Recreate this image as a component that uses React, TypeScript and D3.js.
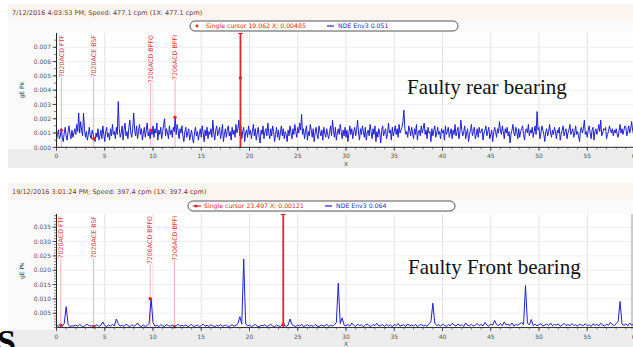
import React from "react";
import * as d3 from "d3";

// ---------- DATA ----------
const rearStep = 0.1; // spacing of spectrum lines (X, orders), rear spectrum
const frontStep = 0.2; // spacing of spectrum lines (X, orders), front spectrum
// Faulty rear bearing spectrum, gE Pk in units of 1e-4
const rearAmpE4 = [
  5, 9, 12, 6, 8, 13, 7, 4, 10, 14, 8, 5, 11, 15, 9, 6, 12, 7, 10, 13,
  9, 16, 11, 24, 10, 18, 12, 8, 24, 13, 7, 11, 5, 9, 14, 8, 6, 12, 9, 6,
  4, 10, 7, 13, 5, 8, 12, 6, 15, 9, 4, 11, 14, 7, 10, 5, 13, 8, 16, 9,
  11, 6, 14, 9, 32, 13, 7, 10, 15, 5, 12, 17, 8, 11, 6, 14, 19, 10, 7, 13,
  24, 12, 8, 15, 6, 11, 16, 9, 13, 5, 10, 14, 7, 12, 17, 8, 11, 6, 12, 9,
  15, 7, 13, 10, 17, 5, 12, 9, 14, 6, 11, 16, 20, 8, 13, 10, 6, 15, 9, 12,
  7, 14, 11, 21, 9, 16, 12, 6, 13, 10, 15, 8, 4, 11, 14, 7, 10, 13, 5, 9,
  12, 6, 3, 10, 14, 8, 11, 5, 9, 13, 7, 15, 10, 4, 12, 8, 14, 6, 11, 9,
  13, 7, 19, 10, 5, 12, 15, 8, 11, 14, 6, 10, 16, 4, 9, 13, 7, 12, 15, 8,
  11, 5, 14, 9, 12, 7, 16, 10, 13, 19, 8, 15, 6, 11, 14, 4, 10, 12, 7, 15,
  9, 12, 6, 11, 16, 8, 13, 5, 10, 14, 7, 3, 12, 9, 15, 6, 11, 13, 8, 17,
  10, 6, 13, 8, 15, 11, 4, 9, 14, 7, 12, 5, 10, 15, 8, 13, 6, 11, 9, 4,
  12, 8, 15, 10, 6, 13, 9, 16, 11, 7, 14, 10, 17, 12, 23, 9, 13, 6, 11, 15,
  5, 11, 8, 16, 12, 7, 13, 4, 10, 14, 9, 6, 15, 11, 8, 12, 5, 14, 10, 7,
  13, 9, 6, 11, 15, 8, 19, 12, 7, 14, 5, 10, 13, 9, 16, 11, 6, 12, 8, 14,
  7, 12, 4, 10, 15, 9, 13, 6, 11, 14, 8, 12, 19, 10, 5, 13, 9, 15, 11, 7,
  14, 5, 10, 12, 8, 16, 11, 6, 13, 9, 15, 4, 11, 7, 13, 10, 3, 12, 15, 8,
  11, 13, 6, 9, 17, 10, 12, 5, 14, 8, 11, 15, 9, 13, 7, 16, 10, 12, 14, 18,
  26, 13, 9, 11, 7, 15, 12, 8, 14, 10, 6, 13, 9, 16, 5, 11, 12, 8, 15, 10,
  13, 17, 9, 12, 6, 14, 10, 11, 4, 13, 8, 12, 15, 7, 10, 14, 9, 11, 6, 13,
  10, 12, 5, 15, 9, 11, 14, 7, 10, 13, 6, 12, 9, 16, 8, 11, 14, 6, 10, 19,
  12, 8, 11, 15, 6, 10, 13, 4, 9, 12, 16, 8, 11, 14, 6, 9, 13, 7, 14, 10,
  11, 13, 5, 10, 12, 15, 8, 11, 14, 6, 9, 12, 4, 10, 14, 11, 7, 13, 10, 18,
  12, 9, 15, 11, 6, 13, 10, 14, 8, 11, 3, 9, 12, 16, 10, 8, 14, 11, 6, 13,
  7, 11, 13, 15, 9, 5, 12, 13, 10, 16, 8, 12, 10, 14, 7, 11, 15, 9, 25, 12,
  14, 6, 10, 15, 12, 9, 4, 11, 13, 8, 11, 16, 10, 7, 12, 9, 14, 11, 6, 12,
  10, 14, 5, 9, 12, 15, 8, 11, 13, 6, 10, 12, 16, 9, 11, 13, 7, 10, 15, 9,
  11, 8, 4, 12, 14, 10, 13, 19, 9, 11, 7, 12, 15, 10, 6, 12, 14, 5, 11, 13,
  9, 12, 16, 11, 19, 8, 10, 13, 12, 14, 6, 9, 11, 15, 12, 10, 13, 8, 12, 10,
  13, 9, 7, 12, 16, 10, 13, 9, 12, 15, 14, 8, 11, 15, 10, 13, 18, 12, 9, 11,
  13,
];
// Faulty front bearing spectrum, gE Pk in units of 1e-4
const frontAmpE4 = [
  8, 5, 10, 4, 14, 73, 12, 3, 7, 5,
  9, 4, 11, 6, 3, 8, 12, 5, 7, 3,
  6, 10, 4, 8, 20, 7, 3, 9, 5, 11,
  6, 30, 14, 5, 9, 4, 12, 7, 3, 10,
  5, 8, 16, 6, 4, 9, 3, 7, 14, 102,
  18, 5, 8, 3, 10, 6, 4, 11, 7, 5,
  9, 3, 6, 12, 4, 8, 5, 10, 3, 7,
  11, 4, 6, 9, 3, 7, 12, 5, 8, 4,
  10, 6, 3, 8, 5, 11, 4, 7, 9, 3,
  6, 10, 5, 8, 14, 38, 12, 239, 15, 6,
  9, 4, 7, 11, 5, 3, 8, 6, 10, 4,
  7, 12, 5, 3, 9, 6, 4, 10, 7, 5,
  8, 30, 11, 6, 4, 9, 5, 12, 3, 7,
  10, 5, 8, 4, 11, 6, 3, 9, 7, 5,
  12, 4, 8, 6, 10, 18, 155, 14, 34, 9,
  6, 11, 5, 16, 8, 4, 12, 7, 10, 3,
  9, 13, 6, 4, 11, 7, 15, 5, 8, 10,
  4, 12, 6, 9, 3, 11, 7, 14, 5, 8,
  10, 4, 13, 6, 9, 5, 12, 3, 8, 11,
  6, 9, 4, 14, 20, 85, 16, 7, 10, 5,
  12, 8, 4, 11, 6, 15, 9, 5, 13, 7,
  10, 4, 16, 8, 6, 12, 5, 9, 14, 7,
  11, 6, 18, 9, 5, 13, 8, 25, 10, 7,
  14, 6, 20, 9, 12, 7, 16, 5, 11, 8,
  13, 18, 10, 147, 16, 9, 28, 7, 12, 6,
  10, 14, 5, 9, 12, 7, 16, 6, 11, 8,
  13, 5, 9, 15, 7, 11, 6, 14, 8, 10,
  5, 12, 9, 7, 14, 6, 10, 4, 13, 8,
  11, 6, 15, 9, 5, 12, 8, 18, 10, 7,
  14, 22, 91, 12, 8, 13, 6, 16, 9, 11,
  8,
];
const xTicks = [0, 5, 10, 15, 20, 25, 30, 35, 40, 45, 50, 55, 60];
const rearYTicks = [0, 0.001, 0.002, 0.003, 0.004, 0.005, 0.006, 0.007];
const frontYTicks = [0.005, 0.01, 0.015, 0.02, 0.025, 0.03, 0.035];
const faultLabels = ["7020ACD FTF", "7020ACE BSF", "7206ACD BPFO", "7206ACD BPFI"];
const rearFaultX = [0.5, 3.85, 9.76, 12.28];
const rearFaultY = [0.0012, 0.0006, 0.0012, 0.0021];
const frontFaultX = [0.45, 3.85, 9.71, 12.22];
const frontFaultY = [0.0008, 0.0003, 0.0101, 0.0003];
const rearCursor = [19.062, 0.00485];
const frontCursor = [23.497, 0.00121];
const rearTitle = "7/12/2016 4:03:53 PM; Speed: 477.1 cpm (1X: 477.1 cpm)";
const frontTitle = "19/12/2016 3:01:24 PM; Speed: 397.4 cpm (1X: 397.4 cpm)";
const rearLegendRed = "Single cursor 19.062 X; 0.00485";
const rearLegendBlue = "NDE Env3 0.051";
const frontLegendRed = "Single cursor 23.497 X; 0.00121";
const frontLegendBlue = "NDE Env3 0.064";
const rearCaption = "Faulty rear bearing";
const frontCaption = "Faulty Front bearing";

// ---------- STYLE ----------
const FONT = "DejaVu Sans, Verdana, sans-serif";
const SERIF = "Liberation Serif, Times New Roman, serif";
const RED = "#e0262a";
const BLUE = "#1f1fd6";

type PanelProps = {
  tag: string;
  top: number;
  panelH: number;
  titleY: number;
  legY: number;
  legX: [number, number];
  plotTop: number;
  plotY0: number;
  yMax: number;
  yTicks: number[];
  yMinor: number;
  amp: number[];
  step: number;
  faultX: number[];
  faultY: number[];
  cursor: number[];
  title: string;
  legRed: string;
  legBlue: string;
  caption: string;
  captionX: number;
  captionY: number;
  rightBorder: boolean;
  legLineMarker: boolean;
};

function Panel(p: PanelProps) {
  const x = d3.scaleLinear().domain([0, 60]).range([56.5, 635.5]);
  const y = d3.scaleLinear().domain([0, p.yMax]).range([p.plotY0, p.plotTop]);
  const line = d3
    .line<number>()
    .x((_, i) => x(i * p.step))
    .y((d) => y(d * 1e-4));
  const minorY = d3.range(0, p.yMax, p.yMinor);
  const minorX = d3.range(0, 61, 1);
  const fs = 6.3;
  const clipId = "clip-" + p.tag;
  return (
    <g>
      {/* panel backgrounds */}
      <rect x={8} y={p.top} width={625} height={p.panelH} fill="#fafafa" />
      <rect x={8} y={p.top} width={625} height={p.legY - p.top - 1} fill="#fbf5f2" />
      <rect x={8} y={p.plotY0 + 2} width={625} height={p.top + p.panelH - p.plotY0 - 2} fill="#ececec" />
      <rect x={56.5} y={p.plotTop} width={633 - 56.5} height={p.plotY0 - p.plotTop} fill="#ffffff" />
      <defs>
        <clipPath id={clipId}>
          <rect x={56.5} y={p.plotTop - 2} width={633 - 56.5} height={p.plotY0 - p.plotTop + 3} />
        </clipPath>
      </defs>
      {/* grid */}
      {xTicks.filter((t) => t > 0).map((t) => (
        <line key={"gx" + t} x1={x(t)} x2={x(t)} y1={p.plotTop} y2={p.plotY0} stroke="#e3e3e3" strokeWidth={1} />
      ))}
      {p.yTicks.filter((t) => t > 0).map((t) => (
        <line key={"gy" + t} x1={56.5} x2={633} y1={y(t)} y2={y(t)} stroke="#eeeeee" strokeWidth={1} />
      ))}
      {p.rightBorder && (
        <line x1={632} x2={632} y1={p.plotTop} y2={p.plotY0 + 2} stroke="#9a9a9a" strokeWidth={1} />
      )}
      {/* title */}
      <text x={12} y={p.titleY} fontFamily={FONT} fontSize={6.5} fill="#6d3b33">
        {p.title}
      </text>
      {/* legend box */}
      <rect x={p.legX[0]} y={p.legY} width={p.legX[1] - p.legX[0]} height={10} rx={5} fill="#ffffff" stroke="#555555" strokeWidth={1} />
      {p.legLineMarker ? (
        <g>
          <line x1={p.legX[0] + 5} x2={p.legX[0] + 13} y1={p.legY + 5} y2={p.legY + 5} stroke={RED} strokeWidth={1.2} />
          <circle cx={p.legX[0] + 8} cy={p.legY + 5} r={1.6} fill={RED} />
        </g>
      ) : (
        <circle cx={p.legX[0] + 7} cy={p.legY + 5} r={1.4} fill={RED} />
      )}
      <text x={p.legX[0] + 16} y={p.legY + 7.3} fontFamily={FONT} fontSize={6.2} fill={RED}>
        {p.legRed}
      </text>
      <line x1={p.legX[0] + 137} x2={p.legX[0] + 144} y1={p.legY + 5} y2={p.legY + 5} stroke={BLUE} strokeWidth={1.2} />
      <text x={p.legX[0] + 148} y={p.legY + 7.3} fontFamily={FONT} fontSize={6.2} fill={BLUE}>
        {p.legBlue}
      </text>
      {/* fault frequency markers */}
      {p.faultX.map((fx, i) => (
        <g key={"f" + i}>
          <line x1={x(fx)} x2={x(fx)} y1={p.plotTop + 2} y2={p.plotY0} stroke="#eaa0a0" strokeWidth={0.8} />
          <text
            transform={`translate(${x(fx) + 2.2},${p.plotTop + 2}) rotate(-90)`}
            textAnchor="end"
            fontFamily={FONT}
            fontSize={fs}
            fill="#d8343a"
            stroke="#ffffff"
            strokeWidth={2}
            paintOrder="stroke"
          >
            {faultLabels[i]}
          </text>
        </g>
      ))}
      {/* spectrum */}
      <path d={line(p.amp) || ""} fill="none" stroke={BLUE} strokeWidth={1} clipPath={`url(#${clipId})`} />
      {p.faultX.map((fx, i) => (
        <circle key={"fd" + i} cx={x(fx)} cy={y(p.faultY[i])} r={1.7} fill={RED} />
      ))}
      {/* main cursor */}
      <line x1={x(p.cursor[0])} x2={x(p.cursor[0])} y1={p.plotTop} y2={p.plotY0} stroke={RED} strokeWidth={1.8} />
      <line x1={x(p.cursor[0]) - 2.5} x2={x(p.cursor[0]) + 2.5} y1={p.plotTop + 0.5} y2={p.plotTop + 0.5} stroke={RED} strokeWidth={1} />
      <circle cx={x(p.cursor[0])} cy={y(p.cursor[1])} r={1.7} fill={RED} />
      {/* axes */}
      <line x1={56.5} x2={56.5} y1={p.plotTop} y2={p.plotY0} stroke="#222" strokeWidth={1} />
      <line x1={56.5} x2={633} y1={p.plotY0} y2={p.plotY0} stroke="#222" strokeWidth={1} />
      {minorY.map((t) => (
        <line key={"my" + t} x1={54} x2={56.5} y1={y(t)} y2={y(t)} stroke="#333" strokeWidth={0.6} />
      ))}
      {p.yTicks.map((t) => (
        <g key={"yt" + t}>
          <line x1={52.5} x2={56.5} y1={y(t)} y2={y(t)} stroke="#333" strokeWidth={0.8} />
          <text x={51} y={y(t) + 2.2} textAnchor="end" fontFamily={FONT} fontSize={6} fill="#555">
            {d3.format(".3f")(t)}
          </text>
        </g>
      ))}
      {minorX.map((t) => (
        <line key={"mx" + t} x1={x(t)} x2={x(t)} y1={p.plotY0} y2={p.plotY0 + 2} stroke="#333" strokeWidth={0.6} />
      ))}
      {xTicks.map((t) => (
        <g key={"xt" + t}>
          <line x1={x(t)} x2={x(t)} y1={p.plotY0} y2={p.plotY0 + 3.5} stroke="#333" strokeWidth={0.8} />
          <text x={x(t)} y={p.plotY0 + 11} textAnchor="middle" fontFamily={FONT} fontSize={6} fill="#555">
            {t}
          </text>
        </g>
      ))}
      <text x={x(30)} y={p.plotY0 + 18.5} textAnchor="middle" fontFamily={FONT} fontSize={6} fill="#555">
        X
      </text>
      <text
        transform={`translate(24,${(p.plotTop + p.plotY0) / 2}) rotate(-90)`}
        textAnchor="middle"
        fontFamily={FONT}
        fontSize={6}
        fill="#444"
      >
        gE Pk
      </text>
      {/* caption */}
      <text x={p.captionX} y={p.captionY} fontFamily={SERIF} fontSize={21} fill="#111">
        {p.caption}
      </text>
    </g>
  );
}

export default function App() {
  return (
    <svg
      width={633}
      height={347}
      viewBox="0 0 633 347"
      style={{ position: "absolute", left: 0, top: 0, display: "block", background: "#ffffff" }}
    >
      <rect x={0} y={0} width={633} height={347} fill="#ffffff" />
      <Panel
        tag="rear"
        top={4}
        panelH={164}
        titleY={15}
        legY={21}
        legX={[190, 458]}
        plotTop={33}
        plotY0={147.3}
        yMax={0.008}
        yTicks={rearYTicks}
        yMinor={0.0005}
        amp={rearAmpE4}
        step={rearStep}
        faultX={rearFaultX}
        faultY={rearFaultY}
        cursor={rearCursor}
        title={rearTitle}
        legRed={rearLegendRed}
        legBlue={rearLegendBlue}
        caption={rearCaption}
        captionX={407}
        captionY={94}
        rightBorder={false}
        legLineMarker={false}
      />
      <Panel
        tag="front"
        top={183}
        panelH={164}
        titleY={194}
        legY={201}
        legX={[188, 455]}
        plotTop={214}
        plotY0={327.6}
        yMax={0.0396}
        yTicks={frontYTicks}
        yMinor={0.001}
        amp={frontAmpE4}
        step={frontStep}
        faultX={frontFaultX}
        faultY={frontFaultY}
        cursor={frontCursor}
        title={frontTitle}
        legRed={frontLegendRed}
        legBlue={frontLegendBlue}
        caption={frontCaption}
        captionX={408}
        captionY={274}
        rightBorder={true}
        legLineMarker={true}
      />
      <text x={-3} y={353} fontFamily={SERIF} fontWeight="bold" fontSize={34} fill="#000">
        S
      </text>
    </svg>
  );
}
